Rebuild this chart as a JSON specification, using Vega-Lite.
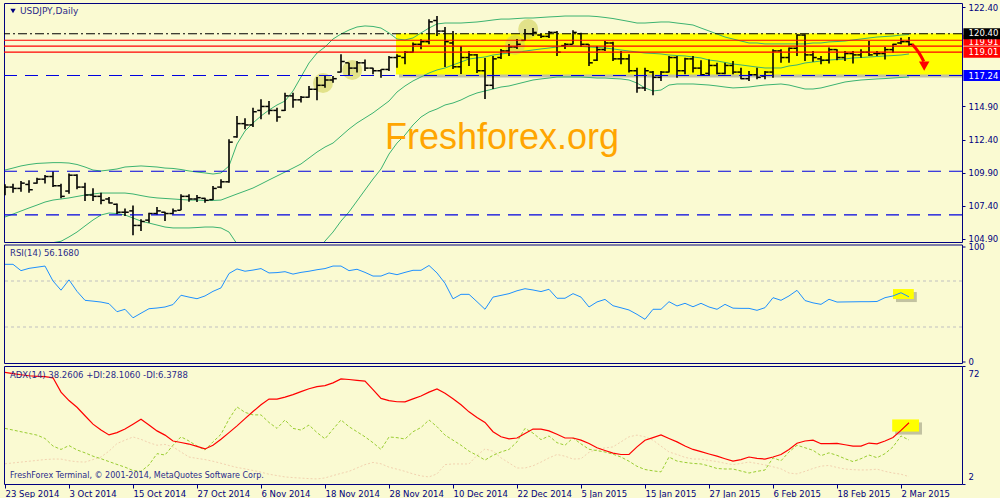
{
"$schema":"https://vega.github.io/schema/vega-lite/v6.json",
"padding":{"left":2,"top":2,"right":0,"bottom":0},
"background":"#FAFAD2",
"bounds":"flush",
"spacing":2.5,
"config":{"view":{"stroke":"#000080","strokeWidth":1},"axis":{"labelColor":"#000080","tickColor":"#000080","labelFont":"DejaVu Sans","labelFontSize":8.5,"grid":false,"domain":false,"title":null}},
"datasets":{
"bars":[
{"i":0,"o":108.4,"h":109.01,"l":108.18,"c":108.8,"bu":110.09,"bm":106.54,"bl":103.0,"rsi":84.5,"adx":68.2,"pdi":35.0,"mdi":14.0},
{"i":1,"o":108.8,"h":109.06,"l":108.38,"c":108.7,"bu":110.24,"bm":106.76,"bl":103.28,"rsi":84.5,"adx":67.5,"pdi":34.0,"mdi":14.5},
{"i":2,"o":108.7,"h":109.26,"l":108.45,"c":109.1,"bu":110.40,"bm":106.99,"bl":103.58,"rsi":79.0,"adx":66.8,"pdi":33.0,"mdi":15.0},
{"i":3,"o":109.0,"h":109.31,"l":108.38,"c":108.6,"bu":110.51,"bm":107.22,"bl":103.93,"rsi":81.0,"adx":66.2,"pdi":32.0,"mdi":15.5},
{"i":4,"o":109.1,"h":109.51,"l":109.06,"c":109.4,"bu":110.59,"bm":107.44,"bl":104.29,"rsi":82.0,"adx":65.9,"pdi":31.0,"mdi":16.0},
{"i":5,"o":109.4,"h":109.71,"l":109.08,"c":109.6,"bu":110.62,"bm":107.67,"bl":104.45,"rsi":83.0,"adx":65.7,"pdi":29.0,"mdi":16.5},
{"i":6,"o":109.6,"h":109.99,"l":108.81,"c":108.9,"bu":110.65,"bm":107.82,"bl":104.6,"rsi":70.0,"adx":65.0,"pdi":24.5,"mdi":16.8},
{"i":7,"o":108.9,"h":109.06,"l":107.95,"c":108.1,"bu":110.65,"bm":107.90,"bl":104.7,"rsi":62.0,"adx":56.5,"pdi":22.5,"mdi":16.8},
{"i":8,"o":108.5,"h":109.82,"l":108.30,"c":109.7,"bu":110.62,"bm":107.98,"bl":105.03,"rsi":71.0,"adx":51.5,"pdi":24.8,"mdi":15.8},
{"i":9,"o":109.7,"h":109.77,"l":108.63,"c":108.8,"bu":110.51,"bm":108.09,"bl":105.40,"rsi":61.0,"adx":47.5,"pdi":22.2,"mdi":15.2},
{"i":10,"o":108.8,"h":109.13,"l":107.75,"c":108.2,"bu":110.32,"bm":108.20,"bl":105.86,"rsi":53.2,"adx":42.5,"pdi":20.5,"mdi":15.0},
{"i":11,"o":108.2,"h":108.71,"l":107.75,"c":108.1,"bu":110.09,"bm":108.28,"bl":106.31,"rsi":52.5,"adx":37.5,"pdi":18.5,"mdi":16.5},
{"i":12,"o":108.1,"h":108.38,"l":107.50,"c":107.8,"bu":110.02,"bm":108.35,"bl":106.69,"rsi":51.7,"adx":34.0,"pdi":17.0,"mdi":18.0},
{"i":13,"o":107.9,"h":108.05,"l":107.55,"c":107.6,"bu":110.09,"bm":108.35,"bl":106.84,"rsi":50.3,"adx":31.1,"pdi":15.3,"mdi":21.5},
{"i":14,"o":107.5,"h":107.55,"l":106.74,"c":106.9,"bu":110.17,"bm":108.35,"bl":106.80,"rsi":43.3,"adx":32.5,"pdi":13.6,"mdi":26.0},
{"i":15,"o":106.9,"h":107.19,"l":106.61,"c":106.9,"bu":110.32,"bm":108.35,"bl":106.69,"rsi":45.4,"adx":34.6,"pdi":12.0,"mdi":28.0},
{"i":16,"o":107.0,"h":107.40,"l":105.15,"c":105.9,"bu":110.36,"bm":108.28,"bl":106.46,"rsi":38.0,"adx":37.5,"pdi":10.0,"mdi":29.9},
{"i":17,"o":105.9,"h":106.36,"l":105.48,"c":106.2,"bu":110.40,"bm":108.16,"bl":106.23,"rsi":42.0,"adx":40.4,"pdi":9.5,"mdi":28.5},
{"i":18,"o":106.3,"h":106.86,"l":106.11,"c":106.8,"bu":110.36,"bm":108.05,"bl":106.08,"rsi":45.9,"adx":37.0,"pdi":13.3,"mdi":26.5},
{"i":19,"o":106.8,"h":107.29,"l":106.69,"c":107.0,"bu":110.32,"bm":107.98,"bl":105.93,"rsi":46.5,"adx":33.5,"pdi":20.0,"mdi":25.0},
{"i":20,"o":106.9,"h":106.94,"l":106.24,"c":106.8,"bu":110.24,"bm":107.94,"bl":105.78,"rsi":47.4,"adx":31.0,"pdi":19.2,"mdi":25.5},
{"i":21,"o":106.8,"h":107.19,"l":106.74,"c":107.0,"bu":110.21,"bm":107.90,"bl":105.71,"rsi":49.5,"adx":27.5,"pdi":25.0,"mdi":24.0},
{"i":22,"o":107.05,"h":108.25,"l":107.04,"c":108.1,"bu":110.13,"bm":107.86,"bl":105.71,"rsi":57.6,"adx":26.6,"pdi":30.0,"mdi":21.0},
{"i":23,"o":108.1,"h":108.25,"l":107.70,"c":107.9,"bu":110.02,"bm":107.82,"bl":105.71,"rsi":56.0,"adx":25.7,"pdi":27.5,"mdi":18.0},
{"i":24,"o":107.9,"h":108.20,"l":107.67,"c":108.0,"bu":109.94,"bm":107.82,"bl":105.74,"rsi":54.6,"adx":24.3,"pdi":24.5,"mdi":17.2},
{"i":25,"o":107.95,"h":108.00,"l":107.62,"c":107.8,"bu":109.87,"bm":107.79,"bl":105.78,"rsi":57.0,"adx":22.8,"pdi":22.2,"mdi":16.5},
{"i":26,"o":107.85,"h":108.88,"l":107.82,"c":108.7,"bu":109.79,"bm":107.79,"bl":105.78,"rsi":61.0,"adx":25.0,"pdi":27.0,"mdi":15.5},
{"i":27,"o":108.8,"h":109.39,"l":108.71,"c":109.2,"bu":109.87,"bm":107.82,"bl":105.71,"rsi":64.0,"adx":28.5,"pdi":31.5,"mdi":14.3},
{"i":28,"o":109.2,"h":112.41,"l":109.13,"c":112.2,"bu":110.40,"bm":108.05,"bl":105.40,"rsi":76.5,"adx":32.5,"pdi":40.5,"mdi":13.0},
{"i":29,"o":112.6,"h":114.18,"l":112.54,"c":113.6,"bu":112.06,"bm":108.28,"bl":104.5,"rsi":80.5,"adx":36.5,"pdi":47.7,"mdi":11.8},
{"i":30,"o":113.6,"h":114.00,"l":113.17,"c":113.5,"bu":113.04,"bm":108.50,"bl":103.96,"rsi":78.5,"adx":40.8,"pdi":44.5,"mdi":11.0},
{"i":31,"o":113.5,"h":114.81,"l":113.35,"c":114.5,"bu":113.65,"bm":108.73,"bl":103.81,"rsi":79.5,"adx":45.0,"pdi":43.0,"mdi":10.0},
{"i":32,"o":114.6,"h":115.44,"l":113.93,"c":114.9,"bu":114.18,"bm":109.03,"bl":103.88,"rsi":80.8,"adx":49.0,"pdi":43.0,"mdi":9.0},
{"i":33,"o":114.9,"h":115.31,"l":114.30,"c":114.6,"bu":114.63,"bm":109.34,"bl":104.05,"rsi":77.0,"adx":52.4,"pdi":38.5,"mdi":7.8},
{"i":34,"o":114.6,"h":114.81,"l":113.75,"c":114.1,"bu":115.01,"bm":109.64,"bl":104.27,"rsi":77.3,"adx":52.4,"pdi":35.0,"mdi":7.0},
{"i":35,"o":114.6,"h":115.94,"l":114.56,"c":115.7,"bu":115.31,"bm":109.94,"bl":104.4,"rsi":78.1,"adx":53.5,"pdi":40.0,"mdi":6.2},
{"i":36,"o":115.7,"h":115.94,"l":114.81,"c":115.4,"bu":116.07,"bm":110.24,"bl":104.41,"rsi":76.0,"adx":55.0,"pdi":35.0,"mdi":5.8},
{"i":37,"o":115.4,"h":115.69,"l":115.19,"c":115.6,"bu":117.13,"bm":110.55,"bl":103.97,"rsi":77.5,"adx":56.8,"pdi":34.0,"mdi":5.5},
{"i":38,"o":115.6,"h":116.45,"l":115.56,"c":116.2,"bu":118.19,"bm":111.00,"bl":103.81,"rsi":78.5,"adx":58.5,"pdi":37.0,"mdi":5.2},
{"i":39,"o":116.2,"h":117.13,"l":115.36,"c":116.5,"bu":118.94,"bm":111.45,"bl":103.96,"rsi":79.8,"adx":59.8,"pdi":32.5,"mdi":5.0},
{"i":40,"o":116.5,"h":117.20,"l":116.32,"c":116.9,"bu":119.40,"bm":111.83,"bl":104.72,"rsi":80.8,"adx":60.4,"pdi":28.8,"mdi":5.6},
{"i":41,"o":116.9,"h":117.20,"l":116.70,"c":117.0,"bu":120.00,"bm":112.13,"bl":105.40,"rsi":83.0,"adx":62.0,"pdi":34.5,"mdi":7.0},
{"i":42,"o":117.5,"h":118.84,"l":117.46,"c":118.3,"bu":120.38,"bm":112.66,"bl":106.23,"rsi":83.0,"adx":64.3,"pdi":40.0,"mdi":8.3},
{"i":43,"o":118.2,"h":118.21,"l":117.20,"c":117.8,"bu":120.68,"bm":113.19,"bl":106.92,"rsi":79.0,"adx":64.0,"pdi":36.0,"mdi":9.5},
{"i":44,"o":117.8,"h":118.34,"l":117.46,"c":118.2,"bu":120.91,"bm":113.65,"bl":107.75,"rsi":80.2,"adx":63.5,"pdi":33.0,"mdi":11.5},
{"i":45,"o":118.2,"h":118.46,"l":117.58,"c":117.8,"bu":120.99,"bm":114.03,"bl":108.58,"rsi":77.5,"adx":63.0,"pdi":30.0,"mdi":13.5},
{"i":46,"o":117.8,"h":117.83,"l":117.33,"c":117.6,"bu":120.95,"bm":114.41,"bl":109.41,"rsi":74.3,"adx":58.0,"pdi":26.5,"mdi":14.8},
{"i":47,"o":117.6,"h":117.71,"l":117.08,"c":117.7,"bu":120.83,"bm":114.86,"bl":110.17,"rsi":74.3,"adx":52.8,"pdi":22.5,"mdi":14.0},
{"i":48,"o":117.7,"h":118.72,"l":117.58,"c":118.6,"bu":120.46,"bm":115.31,"bl":111.30,"rsi":77.0,"adx":51.5,"pdi":29.9,"mdi":12.0},
{"i":49,"o":118.6,"h":118.84,"l":117.83,"c":118.7,"bu":120.00,"bm":115.99,"bl":112.13,"rsi":75.5,"adx":50.8,"pdi":29.5,"mdi":10.8},
{"i":50,"o":118.6,"h":119.09,"l":118.09,"c":119.0,"bu":119.93,"bm":116.45,"bl":112.74,"rsi":77.5,"adx":50.7,"pdi":28.7,"mdi":9.5},
{"i":51,"o":119.0,"h":119.73,"l":118.97,"c":119.6,"bu":120.08,"bm":116.83,"bl":113.50,"rsi":79.3,"adx":52.5,"pdi":33.0,"mdi":8.0},
{"i":52,"o":119.6,"h":119.98,"l":119.22,"c":119.8,"bu":120.46,"bm":117.13,"bl":114.10,"rsi":79.3,"adx":54.2,"pdi":35.5,"mdi":6.8},
{"i":53,"o":119.8,"h":121.49,"l":119.60,"c":121.3,"bu":120.83,"bm":117.43,"bl":114.48,"rsi":83.5,"adx":56.5,"pdi":40.0,"mdi":6.2},
{"i":54,"o":121.4,"h":121.74,"l":120.23,"c":120.6,"bu":121.14,"bm":117.66,"bl":114.71,"rsi":77.0,"adx":58.4,"pdi":36.0,"mdi":8.0},
{"i":55,"o":120.6,"h":120.91,"l":117.88,"c":119.8,"bu":121.21,"bm":117.81,"bl":115.01,"rsi":68.0,"adx":55.8,"pdi":31.0,"mdi":13.5},
{"i":56,"o":119.7,"h":120.61,"l":117.73,"c":117.9,"bu":121.21,"bm":118.04,"bl":115.16,"rsi":54.5,"adx":52.6,"pdi":28.0,"mdi":13.9},
{"i":57,"o":117.9,"h":119.47,"l":117.35,"c":118.6,"bu":121.21,"bm":118.26,"bl":115.39,"rsi":58.4,"adx":49.0,"pdi":25.0,"mdi":13.9},
{"i":58,"o":118.6,"h":119.09,"l":117.96,"c":118.8,"bu":121.25,"bm":118.49,"bl":115.69,"rsi":58.4,"adx":44.8,"pdi":21.5,"mdi":13.9},
{"i":59,"o":118.8,"h":118.87,"l":117.43,"c":117.6,"bu":121.29,"bm":118.57,"bl":115.92,"rsi":52.0,"adx":41.5,"pdi":19.0,"mdi":19.0},
{"i":60,"o":117.6,"h":118.56,"l":115.46,"c":116.5,"bu":121.36,"bm":118.64,"bl":116.07,"rsi":45.4,"adx":38.5,"pdi":16.2,"mdi":22.8},
{"i":61,"o":116.5,"h":118.72,"l":116.22,"c":118.5,"bu":121.44,"bm":118.79,"bl":116.22,"rsi":56.0,"adx":33.0,"pdi":19.0,"mdi":21.5},
{"i":62,"o":118.6,"h":119.25,"l":118.49,"c":119.1,"bu":121.51,"bm":118.87,"bl":116.37,"rsi":57.5,"adx":30.0,"pdi":21.0,"mdi":17.5},
{"i":63,"o":119.1,"h":119.62,"l":118.72,"c":119.4,"bu":121.51,"bm":118.94,"bl":116.45,"rsi":59.0,"adx":28.8,"pdi":22.5,"mdi":14.5},
{"i":64,"o":119.4,"h":120.00,"l":119.25,"c":119.6,"bu":121.55,"bm":119.02,"bl":116.60,"rsi":61.5,"adx":29.3,"pdi":27.0,"mdi":11.5},
{"i":65,"o":119.9,"h":120.76,"l":119.85,"c":120.4,"bu":121.59,"bm":119.09,"bl":116.75,"rsi":63.3,"adx":32.0,"pdi":35.0,"mdi":11.5},
{"i":66,"o":120.4,"h":120.83,"l":120.23,"c":120.5,"bu":121.59,"bm":119.17,"bl":116.90,"rsi":62.2,"adx":34.6,"pdi":32.2,"mdi":12.8},
{"i":67,"o":120.3,"h":120.38,"l":120.08,"c":120.2,"bu":121.63,"bm":119.25,"bl":116.98,"rsi":60.8,"adx":34.6,"pdi":28.3,"mdi":15.0},
{"i":68,"o":120.2,"h":120.61,"l":120.08,"c":120.5,"bu":121.67,"bm":119.32,"bl":117.05,"rsi":62.8,"adx":33.5,"pdi":30.5,"mdi":17.5},
{"i":69,"o":120.5,"h":120.61,"l":118.72,"c":119.0,"bu":121.70,"bm":119.40,"bl":117.13,"rsi":55.0,"adx":31.5,"pdi":26.5,"mdi":19.5},
{"i":70,"o":119.5,"h":119.70,"l":119.25,"c":119.6,"bu":121.74,"bm":119.47,"bl":117.13,"rsi":55.0,"adx":29.3,"pdi":25.0,"mdi":18.5},
{"i":71,"o":119.6,"h":120.66,"l":119.60,"c":120.5,"bu":121.74,"bm":119.47,"bl":117.13,"rsi":59.0,"adx":29.3,"pdi":29.3,"mdi":16.8},
{"i":72,"o":120.4,"h":120.48,"l":119.40,"c":119.6,"bu":121.74,"bm":119.44,"bl":117.13,"rsi":56.0,"adx":28.0,"pdi":25.8,"mdi":17.0},
{"i":73,"o":119.6,"h":119.60,"l":117.96,"c":118.2,"bu":121.74,"bm":119.40,"bl":117.09,"rsi":47.4,"adx":26.0,"pdi":22.6,"mdi":20.8},
{"i":74,"o":118.4,"h":119.47,"l":118.34,"c":119.2,"bu":121.70,"bm":119.36,"bl":117.05,"rsi":51.8,"adx":23.5,"pdi":21.8,"mdi":22.5},
{"i":75,"o":119.2,"h":119.85,"l":119.09,"c":119.7,"bu":121.63,"bm":119.32,"bl":117.05,"rsi":54.0,"adx":21.9,"pdi":21.0,"mdi":23.4},
{"i":76,"o":119.7,"h":119.80,"l":118.34,"c":118.5,"bu":121.55,"bm":119.25,"bl":117.01,"rsi":48.5,"adx":20.3,"pdi":19.7,"mdi":24.0},
{"i":77,"o":118.5,"h":119.09,"l":118.09,"c":118.5,"bu":121.44,"bm":119.17,"bl":116.98,"rsi":46.7,"adx":19.5,"pdi":18.0,"mdi":27.0},
{"i":78,"o":118.5,"h":118.84,"l":117.46,"c":117.6,"bu":121.33,"bm":119.09,"bl":116.90,"rsi":44.8,"adx":19.6,"pdi":15.5,"mdi":30.0},
{"i":79,"o":117.6,"h":117.83,"l":115.94,"c":116.3,"bu":121.21,"bm":119.02,"bl":116.67,"rsi":41.0,"adx":24.0,"pdi":12.5,"mdi":31.0},
{"i":80,"o":116.3,"h":117.83,"l":116.07,"c":117.6,"bu":121.21,"bm":118.94,"bl":116.30,"rsi":36.7,"adx":28.0,"pdi":10.6,"mdi":30.0},
{"i":81,"o":117.5,"h":117.58,"l":115.74,"c":117.1,"bu":121.25,"bm":118.91,"bl":116.07,"rsi":45.4,"adx":29.5,"pdi":9.8,"mdi":28.0},
{"i":82,"o":117.1,"h":117.58,"l":116.83,"c":117.5,"bu":121.29,"bm":118.87,"bl":116.14,"rsi":45.4,"adx":31.1,"pdi":9.2,"mdi":24.5},
{"i":83,"o":117.5,"h":118.72,"l":117.46,"c":118.6,"bu":121.29,"bm":118.79,"bl":116.52,"rsi":52.0,"adx":29.0,"pdi":18.0,"mdi":21.0},
{"i":84,"o":118.6,"h":118.72,"l":117.08,"c":117.6,"bu":121.21,"bm":118.75,"bl":116.60,"rsi":48.3,"adx":27.0,"pdi":15.6,"mdi":19.5},
{"i":85,"o":117.6,"h":118.59,"l":117.33,"c":118.5,"bu":121.14,"bm":118.72,"bl":116.60,"rsi":50.6,"adx":24.5,"pdi":14.8,"mdi":17.8},
{"i":86,"o":118.5,"h":118.72,"l":117.46,"c":117.8,"bu":121.06,"bm":118.64,"bl":116.60,"rsi":47.6,"adx":22.5,"pdi":14.2,"mdi":16.8},
{"i":87,"o":117.8,"h":118.39,"l":117.20,"c":117.3,"bu":120.83,"bm":118.57,"bl":116.56,"rsi":50.6,"adx":21.2,"pdi":13.9,"mdi":16.8},
{"i":88,"o":117.4,"h":118.46,"l":117.20,"c":118.0,"bu":120.61,"bm":118.41,"bl":116.52,"rsi":47.4,"adx":19.8,"pdi":12.7,"mdi":16.0},
{"i":89,"o":118.0,"h":118.21,"l":117.33,"c":117.4,"bu":120.38,"bm":118.34,"bl":116.45,"rsi":45.4,"adx":18.5,"pdi":11.2,"mdi":15.3},
{"i":90,"o":117.4,"h":118.21,"l":117.33,"c":118.0,"bu":120.15,"bm":118.23,"bl":116.37,"rsi":49.7,"adx":17.0,"pdi":10.9,"mdi":14.3},
{"i":91,"o":118.0,"h":118.34,"l":117.33,"c":117.5,"bu":120.00,"bm":118.11,"bl":116.30,"rsi":46.4,"adx":15.6,"pdi":10.9,"mdi":13.5},
{"i":92,"o":117.5,"h":117.83,"l":116.95,"c":117.0,"bu":119.85,"bm":118.04,"bl":116.33,"rsi":46.2,"adx":16.5,"pdi":9.7,"mdi":14.2},
{"i":93,"o":117.0,"h":117.58,"l":116.83,"c":117.3,"bu":119.70,"bm":117.96,"bl":116.37,"rsi":46.2,"adx":18.0,"pdi":8.5,"mdi":15.0},
{"i":94,"o":117.3,"h":117.83,"l":116.95,"c":117.1,"bu":119.70,"bm":117.88,"bl":116.45,"rsi":44.5,"adx":17.2,"pdi":9.5,"mdi":14.2},
{"i":95,"o":117.2,"h":117.58,"l":116.95,"c":117.5,"bu":119.63,"bm":117.81,"bl":116.52,"rsi":46.8,"adx":16.8,"pdi":10.3,"mdi":13.3},
{"i":96,"o":117.5,"h":119.22,"l":117.08,"c":119.1,"bu":119.63,"bm":117.81,"bl":116.56,"rsi":55.5,"adx":18.0,"pdi":17.5,"mdi":12.2},
{"i":97,"o":119.1,"h":119.22,"l":118.21,"c":118.6,"bu":119.63,"bm":117.81,"bl":116.60,"rsi":53.2,"adx":19.5,"pdi":15.8,"mdi":11.0},
{"i":98,"o":118.6,"h":119.35,"l":118.21,"c":119.3,"bu":119.63,"bm":117.96,"bl":116.52,"rsi":57.0,"adx":22.5,"pdi":21.0,"mdi":8.5},
{"i":99,"o":119.3,"h":120.36,"l":118.72,"c":120.3,"bu":119.63,"bm":118.04,"bl":116.37,"rsi":61.9,"adx":26.2,"pdi":25.0,"mdi":8.0},
{"i":100,"o":120.3,"h":120.36,"l":118.34,"c":118.8,"bu":119.63,"bm":118.19,"bl":116.22,"rsi":53.0,"adx":27.5,"pdi":23.5,"mdi":9.5},
{"i":101,"o":118.8,"h":119.09,"l":118.29,"c":118.6,"bu":119.70,"bm":118.26,"bl":116.22,"rsi":51.0,"adx":28.0,"pdi":22.0,"mdi":11.2},
{"i":102,"o":118.5,"h":118.72,"l":118.09,"c":118.4,"bu":119.70,"bm":118.34,"bl":116.30,"rsi":49.7,"adx":25.9,"pdi":18.8,"mdi":12.6},
{"i":103,"o":118.4,"h":119.35,"l":118.14,"c":119.2,"bu":119.78,"bm":118.41,"bl":116.45,"rsi":54.1,"adx":26.0,"pdi":20.5,"mdi":13.0},
{"i":104,"o":119.2,"h":119.22,"l":118.39,"c":118.6,"bu":119.81,"bm":118.45,"bl":116.60,"rsi":51.7,"adx":26.1,"pdi":19.0,"mdi":11.8},
{"i":105,"o":118.6,"h":119.09,"l":118.34,"c":118.9,"bu":119.85,"bm":118.49,"bl":116.75,"rsi":51.8,"adx":25.3,"pdi":17.0,"mdi":10.9},
{"i":106,"o":118.9,"h":119.09,"l":118.14,"c":118.8,"bu":119.93,"bm":118.57,"bl":116.83,"rsi":51.9,"adx":24.5,"pdi":15.3,"mdi":10.5},
{"i":107,"o":118.8,"h":119.22,"l":118.59,"c":119.0,"bu":120.00,"bm":118.60,"bl":116.90,"rsi":52.0,"adx":24.5,"pdi":17.0,"mdi":10.3},
{"i":108,"o":119.0,"h":119.85,"l":118.72,"c":118.8,"bu":120.08,"bm":118.64,"bl":116.94,"rsi":52.0,"adx":26.3,"pdi":19.2,"mdi":10.4},
{"i":109,"o":118.9,"h":119.09,"l":118.72,"c":118.9,"bu":120.15,"bm":118.68,"bl":116.98,"rsi":52.2,"adx":25.8,"pdi":17.6,"mdi":10.8},
{"i":110,"o":118.9,"h":119.40,"l":118.46,"c":119.2,"bu":120.19,"bm":118.72,"bl":117.01,"rsi":55.5,"adx":27.5,"pdi":20.0,"mdi":9.5},
{"i":111,"o":119.2,"h":119.65,"l":118.97,"c":119.6,"bu":120.23,"bm":118.75,"bl":117.05,"rsi":57.0,"adx":29.6,"pdi":24.0,"mdi":8.5},
{"i":112,"o":119.7,"h":120.10,"l":119.60,"c":119.8,"bu":120.30,"bm":118.79,"bl":117.09,"rsi":59.8,"adx":33.8,"pdi":30.5,"mdi":7.8},
{"i":113,"o":119.8,"h":120.15,"l":119.47,"c":119.6,"bu":120.34,"bm":118.87,"bl":117.13,"rsi":56.2,"adx":38.3,"pdi":28.1,"mdi":6.4}
],
"levels":[{"kind":"top","price":120.40},{"kind":"red","price":119.91},{"kind":"red","price":119.46},{"kind":"red","price":119.01},{"kind":"blue","price":117.24},{"kind":"blue","price":110.0},{"kind":"blue","price":106.7}],
"boxes":[{"label":"119.91","price":119.91},{"label":"120.40","price":120.40},{"label":"119.01","price":119.01},{"label":"117.24","price":117.24}],
"notes":[{"i":39.75,"price":116.67},{"i":43.4,"price":117.66},{"i":63.75,"price":119.55},{"i":65.4,"price":120.76}],
"arrow":[{"k":0,"i":113.4,"price":119.6},{"k":1,"i":114.25,"price":118.95},{"k":2,"i":114.85,"price":118.3}]
},
"vconcat":[
{
"width":958,"height":239,
"data":{"name":"bars"},
"layer":[
{"data":{"values":[{}]},"mark":{"type":"rect","fill":"#8a8a70","opacity":0.5,"xOffset":3,"x2Offset":3,"yOffset":3,"y2Offset":3,"clip":true},
 "encoding":{"x":{"datum":48.875,"type":"quantitative","scale":{"domain":[-0.125,119.625],"nice":false,"zero":false},"axis":null},"x2":{"datum":119.625},"y":{"datum":120.42,"type":"quantitative","scale":{"domain":[104.647,122.725],"nice":false,"zero":false},"axis":{"orient":"right","values":[122.4,114.9,112.4,109.9,107.4,104.9],"format":".2f","tickSize":3,"labelPadding":3,"title":null}},"y2":{"datum":117.32}}},
{"data":{"values":[{}]},"mark":{"type":"rect","fill":"#FFFF00","clip":true},
 "encoding":{"x":{"datum":48.875,"type":"quantitative","axis":null},"x2":{"datum":119.625},"y":{"datum":120.42,"type":"quantitative"},"y2":{"datum":117.32}}},
{"mark":{"type":"line","color":"#3CB371","strokeWidth":1,"clip":true},"encoding":{"x":{"field":"i","type":"quantitative","axis":null},"y":{"field":"bu","type":"quantitative"}}},
{"mark":{"type":"line","color":"#3CB371","strokeWidth":1,"clip":true},"encoding":{"x":{"field":"i","type":"quantitative","axis":null},"y":{"field":"bm","type":"quantitative"}}},
{"mark":{"type":"line","color":"#3CB371","strokeWidth":1,"clip":true},"encoding":{"x":{"field":"i","type":"quantitative","axis":null},"y":{"field":"bl","type":"quantitative"}}},
{"data":{"name":"notes"},"mark":{"type":"point","filled":true,"size":400,"color":"#D2D25A","opacity":0.6},"encoding":{"x":{"field":"i","type":"quantitative","axis":null},"y":{"field":"price","type":"quantitative"}}},
{"mark":{"type":"rule","color":"#000000","strokeWidth":1.6,"clip":true},"encoding":{"x":{"field":"i","type":"quantitative","axis":null},"y":{"field":"l","type":"quantitative"},"y2":{"field":"h"}}},
{"mark":{"type":"tick","orient":"horizontal","color":"#000000","size":3.5,"thickness":1.5,"xOffset":-2,"opacity":1,"clip":true},"encoding":{"x":{"field":"i","type":"quantitative","axis":null},"y":{"field":"o","type":"quantitative"}}},
{"mark":{"type":"tick","orient":"horizontal","color":"#000000","size":3.5,"thickness":1.5,"xOffset":2,"opacity":1,"clip":true},"encoding":{"x":{"field":"i","type":"quantitative","axis":null},"y":{"field":"c","type":"quantitative"}}},
{"data":{"name":"levels"},"transform":[{"filter":"datum.kind === 'red'"}],"mark":{"type":"rule","color":"#FF0000","strokeWidth":1.1},"encoding":{"y":{"field":"price","type":"quantitative"}}},
{"data":{"name":"levels"},"transform":[{"filter":"datum.kind === 'top'"}],"mark":{"type":"rule","color":"#000000","strokeWidth":1.2,"strokeDash":[9,3,2,3]},"encoding":{"y":{"field":"price","type":"quantitative"}}},
{"data":{"name":"levels"},"transform":[{"filter":"datum.kind === 'blue'"}],"mark":{"type":"rule","color":"#0000E0","strokeWidth":1.2,"strokeDash":[13,8]},"encoding":{"y":{"field":"price","type":"quantitative"}}},
{"data":{"name":"arrow"},"mark":{"type":"line","color":"#FF0000","strokeWidth":3,"interpolate":"monotone"},"encoding":{"x":{"field":"i","type":"quantitative","axis":null},"y":{"field":"price","type":"quantitative"},"order":{"field":"k"}}},
{"data":{"values":[{}]},"mark":{"type":"point","shape":"triangle-down","filled":true,"color":"#FF0000","opacity":1,"size":110},"encoding":{"x":{"datum":114.9,"type":"quantitative","axis":null},"y":{"datum":117.95,"type":"quantitative"}}},
{"data":{"values":[{}]},"mark":{"type":"text","text":"Freshforex.org","font":"Liberation Sans","fontSize":36,"color":"#FFA500","align":"center","baseline":"alphabetic"},"encoding":{"x":{"datum":62.125,"type":"quantitative","axis":null},"y":{"datum":111.68,"type":"quantitative"}}},
{"data":{"values":[{}]},"mark":{"type":"point","shape":"triangle-down","filled":true,"color":"#000080","opacity":1,"size":28},"encoding":{"x":{"datum":1.0,"type":"quantitative","axis":null},"y":{"datum":122.12,"type":"quantitative"}}},
{"data":{"values":[{}]},"mark":{"type":"text","text":"USDJPY,Daily","font":"DejaVu Sans","fontSize":9,"color":"#2A2A8A","align":"left","baseline":"middle"},"encoding":{"x":{"datum":1.875,"type":"quantitative","axis":null},"y":{"datum":122.12,"type":"quantitative"}}},
{"data":{"name":"boxes"},"transform":[{"filter":"datum.label === '119.91'"},{"calculate":"datum.price + 0.42","as":"top"},{"calculate":"datum.price - 0.42","as":"bot"}],"mark":{"type":"rect","fill":"#FF0000"},"encoding":{"x":{"datum":119.8,"type":"quantitative","axis":null},"x2":{"datum":125.5},"y":{"field":"top","type":"quantitative"},"y2":{"field":"bot"}}},
{"data":{"name":"boxes"},"transform":[{"filter":"datum.label === '119.91'"}],"mark":{"type":"text","color":"#FFFFFF","font":"DejaVu Sans","fontSize":8.5,"align":"left","baseline":"middle","dy":2},"encoding":{"x":{"datum":120.45,"type":"quantitative","axis":null},"y":{"field":"price","type":"quantitative"},"text":{"field":"label"}}},
{"data":{"name":"boxes"},"transform":[{"filter":"datum.label === '120.40'"},{"calculate":"datum.price + 0.42","as":"top"},{"calculate":"datum.price - 0.42","as":"bot"}],"mark":{"type":"rect","fill":"#000000"},"encoding":{"x":{"datum":119.8,"type":"quantitative","axis":null},"x2":{"datum":125.5},"y":{"field":"top","type":"quantitative"},"y2":{"field":"bot"}}},
{"data":{"name":"boxes"},"transform":[{"filter":"datum.label === '120.40'"}],"mark":{"type":"text","color":"#FFFFFF","font":"DejaVu Sans","fontSize":8.5,"align":"left","baseline":"middle","dy":-0.5},"encoding":{"x":{"datum":120.45,"type":"quantitative","axis":null},"y":{"field":"price","type":"quantitative"},"text":{"field":"label"}}},
{"data":{"name":"boxes"},"transform":[{"filter":"datum.label === '119.01'"},{"calculate":"datum.price + 0.42","as":"top"},{"calculate":"datum.price - 0.42","as":"bot"}],"mark":{"type":"rect","fill":"#FF0000"},"encoding":{"x":{"datum":119.8,"type":"quantitative","axis":null},"x2":{"datum":125.5},"y":{"field":"top","type":"quantitative"},"y2":{"field":"bot"}}},
{"data":{"name":"boxes"},"transform":[{"filter":"datum.label === '119.01'"}],"mark":{"type":"text","color":"#FFFFFF","font":"DejaVu Sans","fontSize":8.5,"align":"left","baseline":"middle"},"encoding":{"x":{"datum":120.45,"type":"quantitative","axis":null},"y":{"field":"price","type":"quantitative"},"text":{"field":"label"}}},
{"data":{"name":"boxes"},"transform":[{"filter":"datum.label === '117.24'"},{"calculate":"datum.price + 0.42","as":"top"},{"calculate":"datum.price - 0.42","as":"bot"}],"mark":{"type":"rect","fill":"#0000FF"},"encoding":{"x":{"datum":119.8,"type":"quantitative","axis":null},"x2":{"datum":125.5},"y":{"field":"top","type":"quantitative"},"y2":{"field":"bot"}}},
{"data":{"name":"boxes"},"transform":[{"filter":"datum.label === '117.24'"}],"mark":{"type":"text","color":"#FFFFFF","font":"DejaVu Sans","fontSize":8.5,"align":"left","baseline":"middle"},"encoding":{"x":{"datum":120.45,"type":"quantitative","axis":null},"y":{"field":"price","type":"quantitative"},"text":{"field":"label"}}}
]
},
{
"width":958,"height":118.5,
"data":{"name":"bars"},
"layer":[
{"data":{"values":[{}]},"mark":{"type":"rule","color":"#C0C0C0","strokeDash":[3,3]},"encoding":{"y":{"datum":70,"type":"quantitative","scale":{"domain":[-1.3,101.74],"nice":false,"zero":false},"axis":{"orient":"right","values":[0,30,70,100],"tickSize":3,"labelPadding":3,"labelFlush":true,"labelFlushOffset":-5,"title":null}}}},
{"data":{"values":[{}]},"mark":{"type":"rule","color":"#C0C0C0","strokeDash":[3,3]},"encoding":{"y":{"datum":30,"type":"quantitative"}}},
{"data":{"values":[{}]},"mark":{"type":"rect","fill":"#8a8a70","opacity":0.5,"xOffset":3,"x2Offset":3,"yOffset":3,"y2Offset":3},
 "encoding":{"x":{"datum":111.0,"type":"quantitative","scale":{"domain":[-0.125,119.625],"nice":false,"zero":false},"axis":null},"x2":{"datum":113.6},"y":{"datum":63.0,"type":"quantitative"},"y2":{"datum":54.3}}},
{"data":{"values":[{}]},"mark":{"type":"rect","fill":"#FFFF00"},
 "encoding":{"x":{"datum":111.0,"type":"quantitative","axis":null},"x2":{"datum":113.6},"y":{"datum":63.0,"type":"quantitative"},"y2":{"datum":54.3}}},
{"mark":{"type":"line","color":"#1E90FF","strokeWidth":1},"encoding":{"x":{"field":"i","type":"quantitative","axis":null},"y":{"field":"rsi","type":"quantitative"}}},
{"data":{"values":[{}]},"mark":{"type":"text","text":"RSI(14) 56.1680","font":"DejaVu Sans","fontSize":8.5,"color":"#2A2A8A","align":"left","baseline":"middle"},"encoding":{"x":{"datum":0.625,"type":"quantitative","axis":null},"y":{"datum":94.3,"type":"quantitative"}}}
]
},
{
"width":958,"height":118,
"data":{"name":"bars"},
"layer":[
{"mark":{"type":"line","color":"#F2D2B0","strokeWidth":1,"strokeDash":[2,2]},"encoding":{"x":{"field":"i","type":"quantitative","scale":{"domain":[-0.125,119.625],"nice":false,"zero":false},"axis":{"orient":"bottom","values":[0,8,16,24,32,40,48,56,64,72,80,88,96,104,112],"labelExpr":"['23 Sep 2014','3 Oct 2014','15 Oct 2014','27 Oct 2014','6 Nov 2014','18 Nov 2014','28 Nov 2014','10 Dec 2014','22 Dec 2014','5 Jan 2015','15 Jan 2015','27 Jan 2015','6 Feb 2015','18 Feb 2015','2 Mar 2015'][floor(datum.value/8 + 0.5)]","labelAlign":"left","labelPadding":1,"tickSize":4,"labelOverlap":false,"labelBound":false,"labelFlush":false,"title":null}},"y":{"field":"mdi","type":"quantitative","scale":{"domain":[2,72],"nice":false,"zero":false},"axis":{"orient":"right","values":[2,72],"tickSize":3,"labelPadding":3,"labelFlush":true,"labelFlushOffset":-3,"title":null}}}},
{"mark":{"type":"line","color":"#9ACD32","strokeWidth":1,"strokeDash":[3,2]},"encoding":{"x":{"field":"i","type":"quantitative"},"y":{"field":"pdi","type":"quantitative"}}},
{"data":{"values":[{}]},"mark":{"type":"rect","fill":"#8a8a70","opacity":0.5,"xOffset":3,"x2Offset":3,"yOffset":3,"y2Offset":3},
 "encoding":{"x":{"datum":110.9,"type":"quantitative"},"x2":{"datum":114.25},"y":{"datum":40.3,"type":"quantitative"},"y2":{"datum":33.1}}},
{"data":{"values":[{}]},"mark":{"type":"rect","fill":"#FFFF00"},
 "encoding":{"x":{"datum":110.9,"type":"quantitative"},"x2":{"datum":114.25},"y":{"datum":40.3,"type":"quantitative"},"y2":{"datum":33.1}}},
{"mark":{"type":"line","color":"#FF0000","strokeWidth":1.2},"encoding":{"x":{"field":"i","type":"quantitative"},"y":{"field":"adx","type":"quantitative"}}},
{"data":{"values":[{}]},"mark":{"type":"text","text":"ADX(14) 38.2606 +DI:28.1060 -DI:6.3788","font":"DejaVu Sans","fontSize":8.5,"color":"#2A2A8A","align":"left","baseline":"middle"},"encoding":{"x":{"datum":0.625,"type":"quantitative"},"y":{"datum":66.4,"type":"quantitative"}}},
{"data":{"values":[{}]},"mark":{"type":"text","text":"FreshForex Terminal, © 2001-2014, MetaQuotes Software Corp.","font":"DejaVu Sans","fontSize":8,"color":"#2A2A8A","align":"left","baseline":"middle"},"encoding":{"x":{"datum":0.625,"type":"quantitative"},"y":{"datum":6.45,"type":"quantitative"}}}
]
}
]
}
